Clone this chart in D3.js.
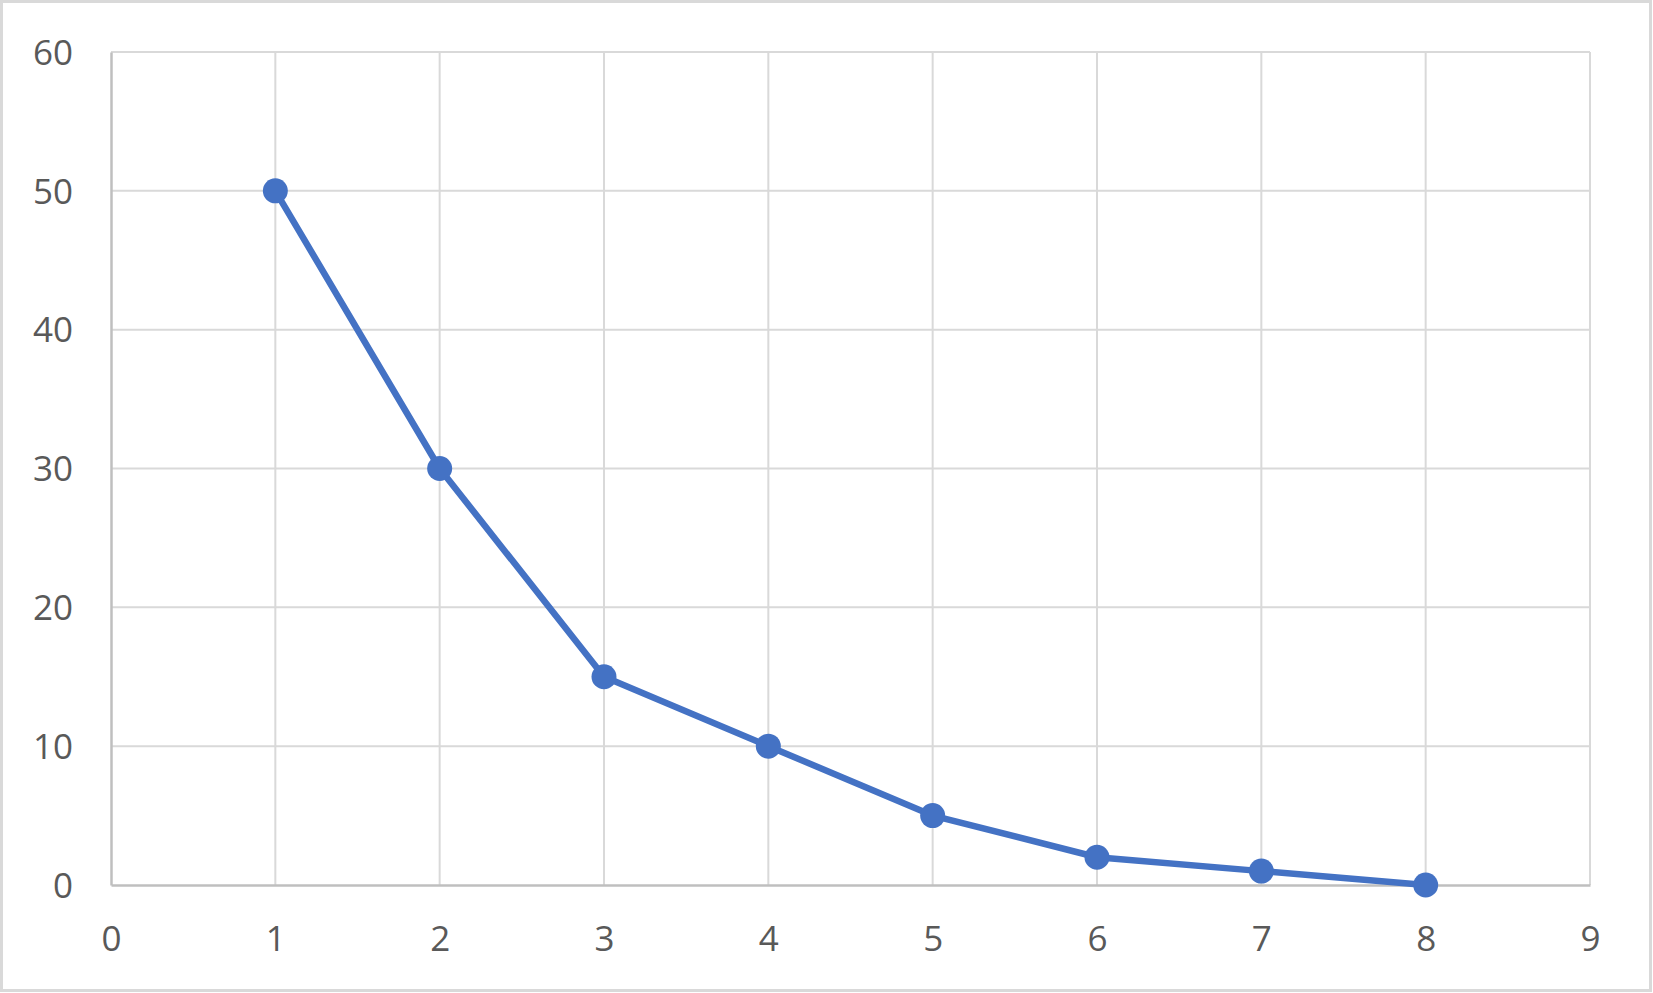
<!DOCTYPE html>
<html><head><meta charset="utf-8">
<script src="https://cdn.jsdelivr.net/npm/d3@7"></script>
<style>html,body{margin:0;padding:0;background:#fff;overflow:hidden}</style>
</head><body>
<svg id="c" width="1653" height="993"></svg>
<script>
const xValues = [1, 2, 3, 4, 5, 6, 7, 8];
const yValues = [50, 30, 15, 10, 5, 2, 1, 0];
const xTicks = [0, 1, 2, 3, 4, 5, 6, 7, 8, 9];
const yTicks = [0, 10, 20, 30, 40, 50, 60];

const svg = d3.select("#c");
const W = 1653, H = 993;
const m = {left: 111, right: 63, top: 52, bottom: 108};
const x = d3.scaleLinear().domain([0, 9]).range([m.left, W - m.right]);
const y = d3.scaleLinear().domain([0, 60]).range([H - m.bottom, m.top]);

svg.append("rect").attr("x", 1.5).attr("y", 1.5).attr("width", W - 4).attr("height", H - 4)
  .attr("fill", "#fff").attr("stroke", "#d9d9d9").attr("stroke-width", 3);

const font = "'Open Sans', 'Noto Sans', sans-serif";

// gridlines
svg.append("g").selectAll("line").data(yTicks.filter(d => d !== 0)).join("line")
  .attr("x1", x(0)).attr("x2", x(9)).attr("y1", d => y(d)).attr("y2", d => y(d))
  .attr("stroke", "#d9d9d9").attr("stroke-width", 2);
svg.append("g").selectAll("line").data(xTicks.filter(d => d !== 0)).join("line")
  .attr("y1", y(0)).attr("y2", y(60)).attr("x1", d => x(d)).attr("x2", d => x(d))
  .attr("stroke", "#d9d9d9").attr("stroke-width", 2);

// axes
const xAxis = svg.append("g").attr("transform", `translate(0,${y(0)})`)
  .call(d3.axisBottom(x).tickValues(xTicks).tickSize(0).tickPadding(41).tickFormat(d3.format("d")));
const yAxis = svg.append("g").attr("transform", `translate(${x(0)},0)`)
  .call(d3.axisLeft(y).tickValues(yTicks).tickSize(0).tickPadding(38).tickFormat(d3.format("d")));
[xAxis, yAxis].forEach(a => {
  a.select(".domain").attr("stroke", "#bfbfbf").attr("stroke-width", 2.5);
  a.selectAll("text").attr("fill", "#595959").style("font-family", font).style("font-size", "35px");
});
yAxis.selectAll("text").attr("dy", "0.35em");
xAxis.selectAll("text").attr("dy", "0.71em");

// line
const data = xValues.map((v, i) => ({x: v, y: yValues[i]}));
svg.append("path").datum(data)
  .attr("d", d3.line().x(d => x(d.x)).y(d => y(d.y)))
  .attr("fill", "none").attr("stroke", "#4472c4").attr("stroke-width", 6.5)
  .attr("stroke-linejoin", "round");
svg.append("g").selectAll("circle").data(data).join("circle")
  .attr("cx", d => x(d.x)).attr("cy", d => y(d.y)).attr("r", 12.5).attr("fill", "#4472c4");
</script>
</body></html>
